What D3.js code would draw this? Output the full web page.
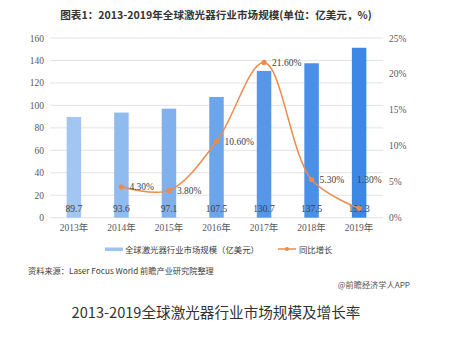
<!DOCTYPE html>
<html><head><meta charset="utf-8">
<script src="https://cdn.jsdelivr.net/npm/d3@7/dist/d3.min.js"></script>
<style>body{margin:0;background:#fff}svg{display:block}</style>
</head><body>
<svg id="c" width="462" height="338"></svg>
<script>
const years = ["2013年","2014年","2015年","2016年","2017年","2018年","2019年"];
const marketSize = [89.7, 93.6, 97.1, 107.5, 130.7, 137.5, 151.3];
const growth = [null, 4.3, 3.8, 10.6, 21.6, 5.3, 1.3];
const growthLabels = ["", "4.30%", "3.80%", "10.60%", "21.60%", "5.30%", "1.30%"];
const leftTicks = [0, 20, 40, 60, 80, 100, 120, 140, 160];
const rightTicks = [0, 5, 10, 15, 20, 25];
const barColors = ["#a2c6f1","#90bbef","#80b1ed","#6ca5ea","#5698e7","#4a90e6","#3d88e4"];

const svg = d3.select("#c");
const serif = "'Liberation Serif','Noto Sans CJK SC',serif";
const sans = "'Noto Sans CJK SC','Liberation Sans',sans-serif";

const x = d3.scaleBand().domain(years).range([50, 383]).paddingInner(0.695).paddingOuter(0.35);
const yL = d3.scaleLinear().domain([0, 160]).range([217.7, 38]);
const yR = d3.scaleLinear().domain([0, 25]).range([217.7, 38]);

// title
svg.append("text").attr("x", 216).attr("y", 19).attr("text-anchor", "middle")
  .attr("font-family", sans).attr("font-weight", "bold").attr("font-size", 10.6).attr("fill", "#333")
  .text("图表1：2013-2019年全球激光器行业市场规模(单位：亿美元，%)");

// grid
svg.append("g").selectAll("line").data(leftTicks).join("line")
  .attr("x1", 50).attr("x2", 383).attr("y1", d => yL(d)).attr("y2", d => yL(d))
  .attr("stroke", "#e3e3e3").attr("stroke-width", 1);

// left axis
const gL = svg.append("g").attr("transform", "translate(44,0)")
  .call(d3.axisLeft(yL).tickValues(leftTicks).tickSize(0).tickPadding(0));
gL.select(".domain").remove();
gL.selectAll("text").attr("font-family", serif).attr("font-size", 9.5).attr("fill", "#595959");

// right axis
const gR = svg.append("g").attr("transform", "translate(389,0)")
  .call(d3.axisRight(yR).tickValues(rightTicks).tickSize(0).tickPadding(0).tickFormat(d => d + "%"));
gR.select(".domain").remove();
gR.selectAll("text").attr("font-family", serif).attr("font-size", 9.5).attr("fill", "#595959");

// x axis
const gX = svg.append("g").attr("transform", "translate(0,224)")
  .call(d3.axisBottom(x).tickSize(0).tickPadding(0));
gX.select(".domain").remove();
gX.selectAll("text").attr("font-family", serif).attr("font-size", 9.5).attr("fill", "#595959").attr("dy", "0.75em");

// bars
svg.append("g").selectAll("rect").data(marketSize).join("rect")
  .attr("x", (d, i) => x(years[i])).attr("width", x.bandwidth())
  .attr("y", d => yL(d)).attr("height", d => yL(0) - yL(d))
  .attr("fill", (d, i) => barColors[i]);

// bar value labels
svg.append("g").selectAll("text").data(marketSize).join("text")
  .attr("x", (d, i) => x(years[i]) + x.bandwidth() / 2).attr("y", 211.5)
  .attr("text-anchor", "middle").attr("font-family", serif).attr("font-size", 9.5).attr("fill", "#404040")
  .text(d => d.toFixed(1));

// line
const pts = growth.map((g, i) => ({ g, i })).filter(p => p.g !== null);
const cx = p => x(years[p.i]) + x.bandwidth() / 2;
const line = d3.line().x(cx).y(p => yR(p.g)).curve(d3.curveCatmullRom.alpha(0.5));
svg.append("path").datum(pts).attr("d", line).attr("fill", "none")
  .attr("stroke", "#ee8b4c").attr("stroke-width", 1.5);
svg.append("g").selectAll("circle").data(pts).join("circle")
  .attr("cx", cx).attr("cy", p => yR(p.g)).attr("r", 2.6).attr("fill", "#ee8b4c");

// growth labels
svg.append("g").selectAll("text").data(pts).join("text")
  .attr("x", p => cx(p) + (p.i === 6 ? -2 : 8))
  .attr("y", p => (p.i === 6 ? yR(growth[5]) : yR(p.g)) + 3.5)
  .attr("font-family", serif).attr("font-size", 9.5).attr("fill", "#404040")
  .text(p => growthLabels[p.i]);

// legend
svg.append("rect").attr("x", 105).attr("y", 247.5).attr("width", 18).attr("height", 3.5).attr("fill", "#9dc3f0");
svg.append("text").attr("x", 125).attr("y", 252.5).attr("font-family", sans).attr("font-size", 8.4).attr("fill", "#404040")
  .text("全球激光器行业市场规模（亿美元）");
svg.append("line").attr("x1", 278).attr("x2", 296).attr("y1", 249).attr("y2", 249).attr("stroke", "#ee8b4c").attr("stroke-width", 1.5);
svg.append("circle").attr("cx", 287).attr("cy", 249).attr("r", 2).attr("fill", "#ee8b4c");
svg.append("text").attr("x", 299).attr("y", 252.5).attr("font-family", sans).attr("font-size", 8.4).attr("fill", "#404040")
  .text("同比增长");

// source
svg.append("text").attr("x", 28).attr("y", 274).attr("font-family", sans).attr("font-size", 8.2).attr("fill", "#404040")
  .text("资料来源：Laser Focus World 前瞻产业研究院整理");
svg.append("text").attr("x", 410).attr("y", 287.5).attr("text-anchor", "end").attr("font-family", sans).attr("font-size", 8.2).attr("fill", "#555")
  .text("@前瞻经济学人APP");

// caption
svg.append("text").attr("x", 216).attr("y", 318).attr("text-anchor", "middle").attr("font-family", sans).attr("font-size", 14.6).attr("fill", "#333")
  .text("2013-2019全球激光器行业市场规模及增长率");
</script>
</body></html>
